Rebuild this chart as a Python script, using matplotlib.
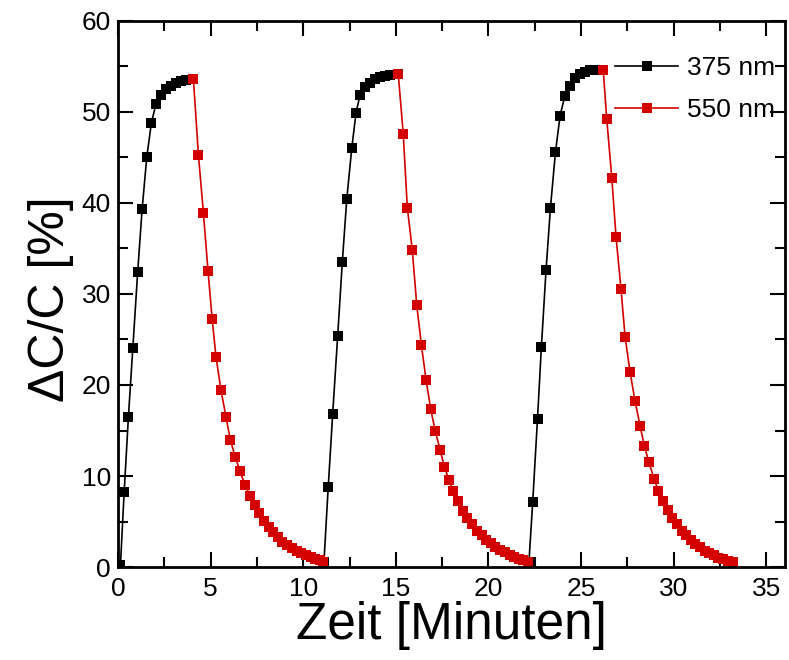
import numpy as np
import matplotlib
matplotlib.use("Agg")
import matplotlib.pyplot as plt

plt.rcParams['font.family'] = ['Liberation Sans', 'DejaVu Sans']

# 375 nm (black) -- three charging cycles, NaN separates cycles
t_375 = [0.13, 0.33, 0.56, 0.80, 1.06, 1.30, 1.55, 1.80, 2.05, 2.32, 2.59, 2.86, 3.13, 3.40, 3.67,
         np.nan,
         11.12, 11.35, 11.59, 11.86, 12.11, 12.35, 12.62, 12.85, 13.07, 13.34, 13.61, 13.88, 14.15, 14.42, 14.69,
         np.nan,
         22.19, 22.39, 22.65, 22.86, 23.11, 23.35, 23.62, 23.87, 24.13, 24.41, 24.68, 24.95, 25.22, 25.49, 25.76]
v_375 = [0.2, 8.2, 16.5, 24.1, 32.4, 39.3, 45.0, 48.8, 50.9, 51.9, 52.5, 52.9, 53.2, 53.4, 53.5,
         np.nan,
         0.6, 8.8, 16.8, 25.4, 33.5, 40.4, 46.0, 49.9, 51.9, 52.7, 53.2, 53.6, 53.8, 54.0, 54.1,
         np.nan,
         0.6, 7.1, 16.3, 24.2, 32.6, 39.5, 45.6, 49.6, 51.8, 52.9, 53.7, 54.2, 54.4, 54.6, 54.6]

# 550 nm (red) -- three decay cycles
t_550 = [4.07, 4.34, 4.61, 4.86, 5.08, 5.29, 5.56, 5.83, 6.06, 6.33, 6.59, 6.86, 7.13, 7.37, 7.61,
         7.88, 8.13, 8.37, 8.64, 8.88, 9.13, 9.40, 9.64, 9.88, 10.15, 10.40, 10.64, 10.88, 11.07,
         np.nan,
         15.13, 15.40, 15.62, 15.89, 16.13, 16.38, 16.63, 16.88, 17.12, 17.39, 17.62, 17.87, 18.11,
         18.36, 18.63, 18.87, 19.11, 19.39, 19.63, 19.87, 20.14, 20.38, 20.63, 20.90, 21.14, 21.38,
         21.63, 21.87, 22.14,
         np.nan,
         26.20, 26.39, 26.66, 26.89, 27.16, 27.38, 27.65, 27.92, 28.19, 28.42, 28.67, 28.94, 29.18,
         29.43, 29.67, 29.91, 30.18, 30.43, 30.67, 30.94, 31.18, 31.42, 31.67, 31.91, 32.18, 32.42,
         32.67, 32.94, 33.20]
v_550 = [53.6, 45.3, 38.9, 32.5, 27.3, 23.1, 19.4, 16.5, 14.0, 12.1, 10.5, 9.0, 7.8, 6.8, 5.9,
         5.1, 4.4, 3.8, 3.3, 2.8, 2.4, 2.1, 1.8, 1.5, 1.3, 1.1, 0.9, 0.8, 0.6,
         np.nan,
         54.2, 47.6, 39.5, 34.8, 28.8, 24.4, 20.6, 17.4, 15.0, 12.9, 11.0, 9.6, 8.3,
         7.2, 6.2, 5.4, 4.7, 4.0, 3.5, 3.0, 2.6, 2.2, 1.9, 1.6, 1.3, 1.1,
         0.9, 0.8, 0.6,
         np.nan,
         54.6, 49.2, 42.8, 36.3, 30.5, 25.3, 21.4, 18.2, 15.5, 13.3, 11.5, 9.7, 8.4,
         7.3, 6.3, 5.4, 4.7, 4.0, 3.5, 3.0, 2.5, 2.2, 1.8, 1.5, 1.3, 1.0,
         0.85, 0.7, 0.55]

fig = plt.figure(figsize=(7.89, 6.6), dpi=100)
ax = fig.add_axes([0.1496, 0.1409, 0.845, 0.8273])

ax.plot(t_375, v_375, color='black', lw=1.2, marker='s', ms=7.8, mew=0, label='375 nm')
ax.plot(t_550, v_550, color='#d40000', lw=1.2, marker='s', ms=7.8, mew=0, label='550 nm')

ax.set_xlim(0, 36)
ax.set_ylim(0, 60)
ax.set_xticks(np.arange(0, 36, 5))
ax.set_xticks(np.arange(0, 36, 2.5), minor=True)
ax.set_yticks(np.arange(0, 61, 10))
ax.set_yticks(np.arange(0, 61, 5), minor=True)
ax.tick_params(which='both', direction='in', top=True, right=True, width=1.5, labelsize=19)
ax.tick_params(which='major', length=11, pad=7)
ax.tick_params(axis='y', which='major', pad=5)
ax.tick_params(which='minor', length=7)
for s in ax.spines.values():
    s.set_linewidth(2)

ax.set_xlabel('Zeit [Minuten]', fontsize=37, labelpad=0)
ax.set_ylabel('ΔC/C [%]', fontsize=36)
ax.yaxis.set_label_coords(-0.066, 0.491)

ax.legend(loc='upper left', bbox_to_anchor=(0.7455, 0.936), frameon=False, fontsize=19,
          handlelength=2.4, handletextpad=0.34, borderpad=0, borderaxespad=0, labelspacing=0.7)

fig.savefig('out.png', dpi=100)
